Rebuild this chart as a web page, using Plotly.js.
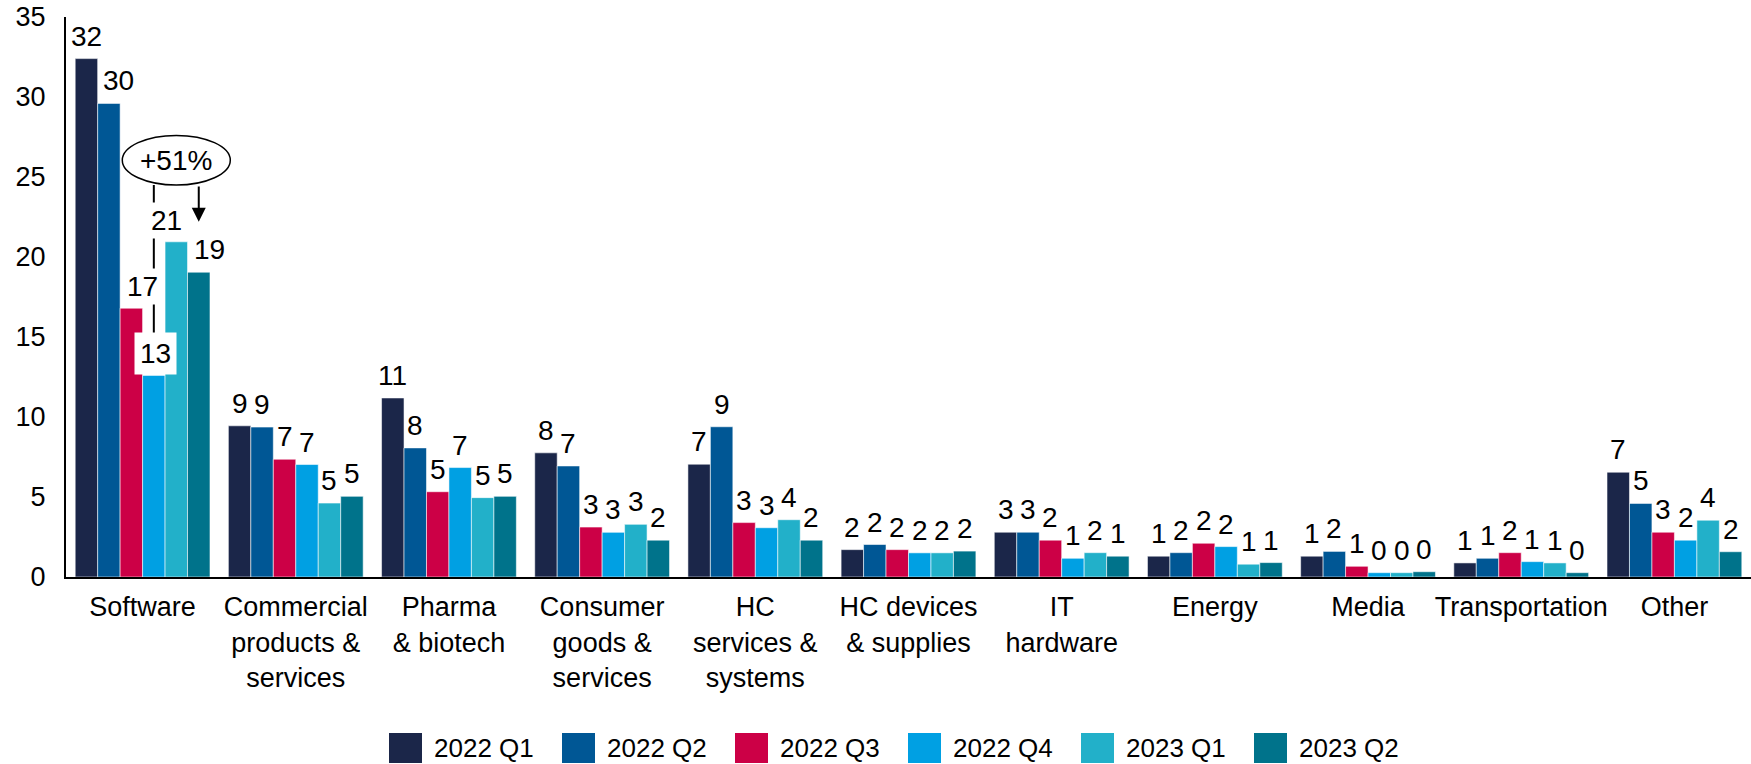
<!DOCTYPE html>
<html>
<head>
<meta charset="utf-8">
<script src="https://cdn.plot.ly/plotly-3.0.1.min.js"></script>
<style>html,body{margin:0;padding:0;background:#fff;}#chart{width:1751px;height:764px;}</style>
</head>
<body>
<div id="chart"></div>
<script>
// ---------- DATA ----------
const categories = [
  "Software",
  "Commercial<br>products &<br>services",
  "Pharma<br>& biotech",
  "Consumer<br>goods &<br>services",
  "HC<br>services &<br>systems",
  "HC devices<br>& supplies",
  "IT<br>hardware",
  "Energy",
  "Media",
  "Transportation",
  "Other"
];
const seriesNames = ["2022 Q1", "2022 Q2", "2022 Q3", "2022 Q4", "2023 Q1", "2023 Q2"];
const q1_2022 = [32.4, 9.45, 11.19, 7.76, 7.05, 1.71, 2.8, 1.3, 1.3, 0.88, 6.55];
const q2_2022 = [29.6, 9.37, 8.07, 6.94, 9.39, 2.03, 2.8, 1.52, 1.6, 1.17, 4.6];
const q3_2022 = [16.8, 7.36, 5.33, 3.12, 3.4, 1.71, 2.3, 2.11, 0.67, 1.52, 2.8];
const q4_2022 = [12.6, 7.03, 6.84, 2.79, 3.08, 1.51, 1.17, 1.9, 0.27, 0.96, 2.3];
const q1_2023 = [20.95, 4.62, 4.96, 3.29, 3.58, 1.51, 1.52, 0.8, 0.27, 0.88, 3.55];
const q2_2023 = [19.05, 5.04, 5.04, 2.3, 2.3, 1.62, 1.3, 0.9, 0.33, 0.27, 1.58];
const yTicks = [0, 5, 10, 15, 20, 25, 30, 35];
const changeLabel = "+51%";

// ---------- STYLE ----------
const colors = ["#1B2649", "#005795", "#CC0046", "#00A0E3", "#22B0C9", "#00738B"];
const FONT = "Liberation Sans, Arial, Helvetica, sans-serif";
const W = 1751, H = 764;
const M = {l: 66, r: 0, t: 17, b: 187};
const BARGAP = 0.12;
const allSeries = [q1_2022, q2_2022, q3_2022, q4_2022, q1_2023, q2_2023];
const nS = allSeries.length;
const bw = (1 - BARGAP) / nS;            // bar width in category units
const off = i => (i - (nS - 1) / 2) * bw; // offset of series i inside a group

const traces = allSeries.map((vals, i) => ({
  type: "bar",
  name: seriesNames[i],
  x: categories.map((c, j) => j),
  y: vals,
  marker: {color: colors[i], line: {color: "rgba(255,255,255,0.55)", width: 1}},
  hoverinfo: "x+y+name",
  showlegend: false
}));

// value labels
const softwareShift = [0, 10, 11, 2, -10, 11];
const softwareBg = [0, 0, 2, 5, 2, 0];
const annotations = [];
allSeries.forEach((vals, i) => {
  vals.forEach((v, j) => {
    const a = {
      x: j + off(i), y: v, xref: "x", yref: "y",
      text: String(Math.round(v)), showarrow: false,
      yanchor: "bottom", xanchor: "center", yshift: 5,
      font: {family: FONT, size: 28, color: "#000"}
    };
    if (j === 0) {
      a.xshift = softwareShift[i];
      if (softwareBg[i]) { a.bgcolor = "#fff"; a.borderpad = softwareBg[i]; a.yshift = 5 - softwareBg[i]; }
    }
    annotations.push(a);
  });
});

// +51% callout
const ellCx = (off(3) + off(5)) / 2;
const ellRx = 0.3525;
const ellBottom = 24.5, ellTop = 27.6;
annotations.push({
  x: ellCx, y: (ellBottom + ellTop) / 2, xref: "x", yref: "y",
  text: changeLabel, showarrow: false,
  font: {family: FONT, size: 28, color: "#000"}
});
annotations.push({
  x: off(5), y: 22.2, xref: "x", yref: "y",
  ax: off(5), ay: ellBottom, axref: "x", ayref: "y",
  text: "", showarrow: true, arrowhead: 2, arrowsize: 1.4, arrowwidth: 2,
  arrowcolor: "#000", standoff: 0, startstandoff: 0
});

const shapes = [
  {type: "circle", xref: "x", yref: "y", x0: ellCx - ellRx, x1: ellCx + ellRx,
   y0: ellBottom, y1: ellTop, line: {color: "#000", width: 1.5}, fillcolor: "rgba(0,0,0,0)"},
  {type: "line", xref: "x", yref: "y", x0: off(3), x1: off(3), y0: ellBottom, y1: 15.2,
   line: {color: "#000", width: 2}}
];

// custom legend (large square swatches)
const plotW = W - M.l - M.r, plotH = H - M.t - M.b;
const px2x = px => (px - M.l) / plotW;
const py2y = py => (H - M.b - py) / plotH;
seriesNames.forEach((name, k) => {
  const left = 389 + 173 * k;
  shapes.push({type: "rect", xref: "paper", yref: "paper",
    x0: px2x(left), x1: px2x(left + 33), y0: py2y(763), y1: py2y(733),
    fillcolor: colors[k], line: {width: 0}});
  annotations.push({xref: "paper", yref: "paper", x: px2x(left + 43), y: py2y(748),
    xanchor: "left", yanchor: "middle", text: name, showarrow: false,
    font: {family: FONT, size: 26, color: "#000"}});
});

const layout = {
  width: W, height: H,
  margin: M,
  paper_bgcolor: "#fff", plot_bgcolor: "#fff",
  barmode: "group", bargap: BARGAP, bargroupgap: 0,
  showlegend: false,
  font: {family: FONT, color: "#000"},
  xaxis: {
    type: "linear", range: [-0.5, categories.length - 0.5],
    tickmode: "array", tickvals: categories.map((c, j) => j), ticktext: categories,
    showline: true, linecolor: "#000", linewidth: 2, ticks: "", showgrid: false, zeroline: false,
    tickfont: {family: FONT, size: 27, color: "#000"}, ticklabelstandoff: 5
  },
  yaxis: {
    range: [0, 35], tickmode: "array", tickvals: yTicks,
    showline: true, linecolor: "#000", linewidth: 2, ticks: "", showgrid: false, zeroline: false,
    tickfont: {family: FONT, size: 27, color: "#000"}, ticklabelstandoff: 13
  },
  annotations: annotations,
  shapes: shapes
};

Plotly.newPlot("chart", traces, layout, {staticPlot: true, displayModeBar: false});
</script>
</body>
</html>
